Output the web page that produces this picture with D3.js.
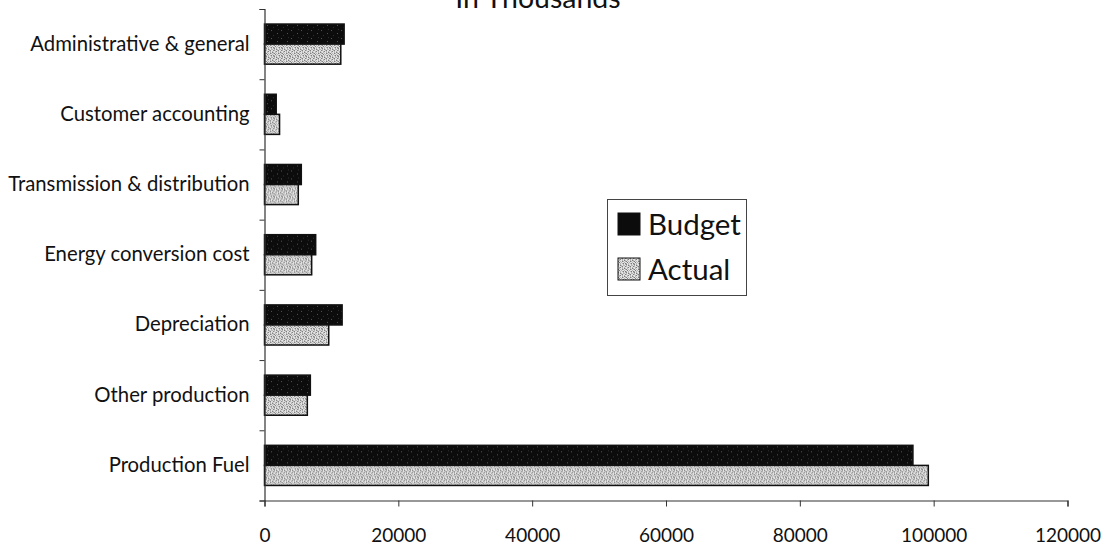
<!DOCTYPE html>
<html>
<head>
<meta charset="utf-8">
<script src="https://cdn.jsdelivr.net/npm/d3@7/dist/d3.min.js"></script>
<style>
  html, body { margin: 0; padding: 0; background: #fff; }
  svg { display: block; }
  text { font-family: Lato, "Open Sans", sans-serif; fill: #111; }
</style>
</head>
<body>
<svg id="chart" width="1105" height="545"></svg>
<script>
// Expense categories, listed top to bottom as drawn
const categories = [
  "Administrative & general",
  "Customer accounting",
  "Transmission & distribution",
  "Energy conversion cost",
  "Depreciation",
  "Other production",
  "Production Fuel"
];
// Values in thousands
const budgetValues = [11900, 1750, 5500, 7650, 11600, 6850, 96900];
const actualValues = [11400, 2250, 5050, 7050, 9600, 6400, 99200];
const seriesNames = ["Budget", "Actual"];
const xTickValues = [0, 20000, 40000, 60000, 80000, 100000, 120000];
const titleText = "In Thousands";

const svg = d3.select("#chart");
const plot = { left: 264.5, right: 1067.5, top: 9, bottom: 500.5 };

// Textured fills for the two series, built from small pixel tiles
const defs = svg.append("defs");
function pixelPattern(id, rows, palette) {
  const h = rows.length, w = rows[0].length;
  const p = defs.append("pattern").attr("id", id)
    .attr("patternUnits", "userSpaceOnUse").attr("width", w).attr("height", h);
  rows.forEach((row, py) => {
    [...row].forEach((ch, px) => {
      p.append("rect").attr("x", px).attr("y", py).attr("width", 1).attr("height", 1)
        .attr("fill", palette[ch]).attr("shape-rendering", "crispEdges");
    });
  });
}
pixelPattern("texBudget", [
  "##########",
  "#######+##",
  "##########",
  "###o######",
  "##########",
  "########o#",
  "#+########",
  "##########"
], { "#": "#0c0c0c", "+": "#555555", "o": "#2e2e2e" });
pixelPattern("texActual", [
  ".o#.o..o",
  "o.o.#o.o",
  ".#o..o#.",
  "o..o#.o.",
  "#o.o..o.",
  ".o#.o.#o",
  "o..#.o..",
  ".#o.o.o#"
], { ".": "#e4e4e4", "o": "#b4b4b4", "#": "#7c7c7c" });

const fills = { Budget: "url(#texBudget)", Actual: "url(#texActual)" };

// Scales
const x = d3.scaleLinear().domain([0, 120000]).range([plot.left, plot.right]);
const y = d3.scaleBand().domain(categories).range([plot.top, plot.bottom])
  .paddingInner(1.5 / 3.5).paddingOuter(0.75 / 3.5);
const ySub = d3.scaleBand().domain(seriesNames).range([0, y.bandwidth()]);

// Title (runs past the top edge)
svg.append("text")
  .attr("x", 538).attr("y", 7.5)
  .attr("text-anchor", "middle")
  .style("font-size", "28.5px")
  .text(titleText);

// Bars
const rows = categories.map((c, i) => ({ cat: c, Budget: budgetValues[i], Actual: actualValues[i] }));
const groups = svg.append("g").selectAll("g").data(rows).join("g")
  .attr("transform", d => `translate(0,${y(d.cat)})`);
groups.selectAll("rect")
  .data(d => seriesNames.map(s => ({ s, v: d[s] })))
  .join("rect")
  .attr("x", x(0))
  .attr("y", d => ySub(d.s))
  .attr("width", d => x(d.v) - x(0))
  .attr("height", ySub.bandwidth())
  .attr("fill", d => fills[d.s])
  .attr("stroke", "#111")
  .attr("stroke-width", 1.5);

// Category axis: boundary ticks and labels
const yEdges = d3.scaleLinear().domain([0, categories.length]).range([plot.top, plot.bottom]);
const yTickG = svg.append("g")
  .attr("transform", `translate(${plot.left},0)`)
  .call(d3.axisLeft(yEdges).tickValues(d3.range(categories.length + 1))
    .tickSize(5).tickFormat(""));
yTickG.select(".domain").attr("stroke", "#333").attr("stroke-width", 1.2);
yTickG.selectAll(".tick line").attr("stroke", "#333");

const yLabelG = svg.append("g")
  .attr("transform", `translate(${plot.left},0)`)
  .call(d3.axisLeft(y).tickSize(0).tickPadding(15));
yLabelG.select(".domain").remove();
yLabelG.selectAll("text")
  .style("font-family", "Lato, 'Open Sans', sans-serif")
  .style("font-size", "20.3px")
  .attr("fill", "#111");

// Value axis
const xAxisG = svg.append("g")
  .attr("transform", `translate(0,${plot.bottom})`)
  .call(d3.axisBottom(x).tickValues(xTickValues).tickSize(6).tickPadding(22)
    .tickFormat(d3.format("d")));
xAxisG.select(".domain").attr("stroke", "#333").attr("stroke-width", 1.2);
xAxisG.selectAll(".tick line").attr("stroke", "#333");
xAxisG.selectAll("text")
  .style("font-family", "Lato, 'Open Sans', sans-serif")
  .style("font-size", "19px")
  .attr("fill", "#111");

// Legend
const lg = svg.append("g");
lg.append("rect")
  .attr("x", 607.5).attr("y", 199.5).attr("width", 139).attr("height", 96)
  .attr("fill", "#fff").attr("stroke", "#444").attr("stroke-width", 1);
const legendSwatch = { Budget: "#0c0c0c", Actual: "url(#texActual)" };
seriesNames.forEach((s, i) => {
  const yy = 213 + i * 45;
  lg.append("rect")
    .attr("x", 618).attr("y", yy).attr("width", 22).attr("height", 22)
    .attr("fill", legendSwatch[s]).attr("stroke", "#111").attr("stroke-width", 1);
  lg.append("text")
    .attr("x", 648).attr("y", yy + 22)
    .style("font-size", "29.5px")
    .text(s);
});
</script>
</body>
</html>
